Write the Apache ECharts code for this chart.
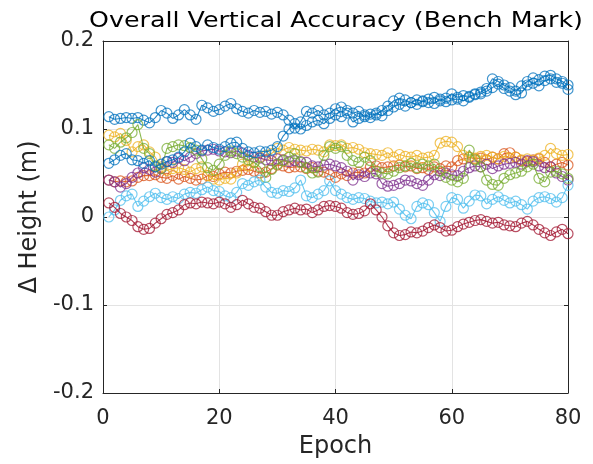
<!DOCTYPE html>
<html>
<head>
<meta charset="utf-8">
<script src="https://cdn.jsdelivr.net/npm/echarts@6/dist/echarts.min.js"></script>
<style>
html,body{margin:0;padding:0;background:#fff;}
#chart{width:593px;height:464px;}
</style>
</head>
<body>
<div id="chart"></div>
<script>
const epochs = Array.from({length: 80}, (_, i) => i + 1);

const seriesNames = ['Series 1','Series 2','Series 3','Series 4','Series 5','Series 6','Series 7','Series 8'];

const blueUpper = [
0.114,0.111,0.112,0.113,0.112,0.113,0.110,0.107,0.113,0.121,
0.118,0.112,0.116,0.122,0.116,0.111,0.127,0.124,0.120,0.122,
0.126,0.129,0.123,0.120,0.118,0.121,0.119,0.120,0.117,0.119,
0.116,0.110,0.101,0.108,0.120,0.118,0.121,0.116,0.118,0.123,
0.125,0.121,0.118,0.120,0.114,0.117,0.116,0.121,0.126,0.132,
0.135,0.133,0.130,0.133,0.131,0.134,0.136,0.132,0.135,0.140,
0.136,0.138,0.137,0.140,0.142,0.146,0.157,0.154,0.150,0.147,
0.143,0.149,0.154,0.158,0.156,0.160,0.161,0.157,0.154,0.150];

const orange = [
0.042,0.040,0.041,0.040,0.041,0.045,0.047,0.047,0.048,0.045,
0.044,0.047,0.043,0.046,0.044,0.042,0.043,0.047,0.046,0.049,
0.051,0.050,0.052,0.053,0.054,0.052,0.050,0.051,0.055,0.059,
0.058,0.056,0.057,0.057,0.055,0.056,0.052,0.051,0.048,0.045,
0.049,0.047,0.050,0.051,0.050,0.057,0.058,0.056,0.057,0.058,
0.059,0.057,0.058,0.055,0.056,0.054,0.057,0.055,0.058,0.057,
0.064,0.066,0.068,0.066,0.067,0.065,0.068,0.066,0.072,0.073,
0.068,0.064,0.063,0.065,0.066,0.062,0.057,0.060,0.062,0.059];

const yellow = [
0.093,0.091,0.095,0.087,0.074,0.080,0.082,0.074,0.068,0.057,
0.053,0.055,0.056,0.054,0.051,0.055,0.057,0.047,0.043,0.042,
0.044,0.043,0.050,0.060,0.058,0.062,0.068,0.070,0.072,0.078,
0.076,0.079,0.077,0.076,0.075,0.077,0.076,0.074,0.082,0.081,
0.082,0.078,0.079,0.077,0.073,0.072,0.071,0.070,0.073,0.068,
0.071,0.069,0.068,0.070,0.067,0.068,0.070,0.084,0.086,0.085,
0.080,0.070,0.068,0.067,0.069,0.070,0.068,0.066,0.069,0.067,
0.068,0.065,0.066,0.064,0.067,0.070,0.078,0.072,0.070,0.071];

const purple = [
0.042,0.040,0.034,0.038,0.045,0.050,0.056,0.054,0.051,0.055,
0.063,0.062,0.067,0.064,0.068,0.072,0.075,0.076,0.077,0.075,
0.074,0.073,0.075,0.073,0.070,0.068,0.067,0.065,0.064,0.066,
0.065,0.063,0.064,0.063,0.062,0.058,0.057,0.059,0.060,0.058,
0.056,0.052,0.042,0.048,0.046,0.050,0.049,0.038,0.035,0.036,
0.038,0.042,0.041,0.038,0.036,0.042,0.048,0.047,0.050,0.048,
0.047,0.052,0.056,0.058,0.057,0.060,0.055,0.058,0.060,0.061,
0.062,0.060,0.064,0.063,0.058,0.056,0.057,0.050,0.046,0.042];

const green = [
0.082,0.078,0.085,0.090,0.096,0.105,0.078,0.072,0.058,0.055,
0.078,0.080,0.082,0.081,0.079,0.076,0.066,0.056,0.053,0.060,
0.070,0.075,0.072,0.068,0.065,0.062,0.057,0.045,0.054,0.060,
0.064,0.068,0.072,0.062,0.056,0.050,0.051,0.070,0.080,0.078,
0.080,0.070,0.064,0.062,0.068,0.064,0.052,0.050,0.049,0.052,
0.056,0.058,0.061,0.056,0.060,0.058,0.060,0.052,0.045,0.042,
0.040,0.044,0.076,0.065,0.057,0.042,0.037,0.036,0.044,0.048,
0.050,0.052,0.057,0.060,0.044,0.040,0.051,0.052,0.049,0.044];

const lightBlue = [
0.000,0.008,0.019,0.024,0.026,0.012,0.018,0.023,0.027,0.022,
0.020,0.023,0.021,0.026,0.028,0.027,0.031,0.034,0.030,0.029,
0.024,0.022,0.028,0.038,0.036,0.040,0.042,0.034,0.028,0.027,
0.030,0.029,0.033,0.042,0.024,0.022,0.026,0.030,0.041,0.030,
0.026,0.022,0.020,0.022,0.021,0.018,0.016,0.017,0.015,0.017,
0.009,0.002,-0.002,0.012,0.016,0.014,0.005,-0.005,0.012,0.022,
0.020,0.010,0.018,0.025,0.024,0.015,0.020,0.023,0.019,0.016,
0.018,0.014,0.009,0.018,0.022,0.023,0.021,0.017,0.022,0.036];

const darkRed = [
0.016,0.011,0.004,0.000,-0.004,-0.011,-0.014,-0.013,-0.007,-0.002,
0.003,0.005,0.008,0.014,0.016,0.015,0.017,0.016,0.015,0.017,
0.015,0.011,0.014,0.019,0.015,0.011,0.010,0.006,0.002,0.002,
0.006,0.008,0.010,0.008,0.009,0.005,0.008,0.012,0.013,0.012,
0.010,0.005,0.003,0.004,0.007,0.015,0.008,0.000,-0.010,-0.018,
-0.021,-0.020,-0.017,-0.018,-0.016,-0.012,-0.009,-0.012,-0.016,-0.015,
-0.011,-0.008,-0.006,-0.004,-0.003,-0.005,-0.007,-0.006,-0.009,-0.010,
-0.011,-0.007,-0.005,-0.009,-0.014,-0.018,-0.021,-0.017,-0.014,-0.019];

const blueLower = [
0.061,0.065,0.070,0.072,0.065,0.064,0.061,0.064,0.057,0.060,
0.063,0.065,0.068,0.074,0.084,0.080,0.076,0.082,0.079,0.077,
0.080,0.084,0.085,0.078,0.074,0.073,0.075,0.074,0.076,0.080,
0.092,0.100,0.106,0.100,0.104,0.108,0.110,0.106,0.112,0.116,
0.114,0.118,0.108,0.112,0.116,0.113,0.118,0.115,0.121,0.125,
0.128,0.126,0.130,0.128,0.132,0.130,0.129,0.134,0.131,0.133,
0.134,0.132,0.136,0.139,0.140,0.143,0.147,0.151,0.146,0.143,
0.139,0.141,0.150,0.152,0.149,0.155,0.157,0.153,0.152,0.145];

const xTicks = [0, 20, 40, 60, 80];
const yTicks = [-0.2, -0.1, 0, 0.1, 0.2];

const allValues = [blueUpper, orange, yellow, purple, green, lightBlue, darkRed, blueLower];
const colors = ['#0072BD','#D95319','#EDB120','#7E2F8E','#77AC30','#4DBEEE','#A2142F','#0072BD'];

const FONT = 'DejaVu Sans';
const TXT = '#262626';

const chart = echarts.init(document.getElementById('chart'), null, {renderer: 'canvas'});

const series = allValues.map((vals, k) => ({
  name: seriesNames[k],
  type: 'line',
  data: epochs.map((e, i) => [e, vals[i]]),
  symbol: 'circle',
  symbolSize: 10,
  showSymbol: true,
  showAllSymbol: true,
  animation: false,
  lineStyle: {color: colors[k], width: 1.1, opacity: 0.85},
  itemStyle: {color: 'rgba(255,255,255,0)', borderColor: colors[k], borderWidth: 1.2, opacity: 0.75},
  emphasis: {disabled: true},
  z: 2 + k
}));

const fmtY = v => {
  const r = Math.round(v * 10) / 10;
  return r === 0 ? '0' : String(r);
};

chart.setOption({
  backgroundColor: '#fff',
  animation: false,
  graphic: [{
    type: 'text',
    x: 336,
    y: 21,
    scaleX: 1.15,
    style: {
      text: 'Overall Vertical Accuracy (Bench Mark)',
      font: '22px "DejaVu Sans"',
      fill: '#000',
      align: 'center',
      verticalAlign: 'middle'
    }
  }],
  grid: {left: 103, right: 25, top: 41, bottom: 70, containLabel: false},
  xAxis: [{
    type: 'value',
    min: 0, max: 80, interval: 20,
    name: 'Epoch',
    nameLocation: 'middle',
    nameGap: 42,
    nameTextStyle: {fontFamily: FONT, fontSize: 24, color: TXT},
    axisLine: {show: true, onZero: false, lineStyle: {color: '#262626', width: 1}},
    axisTick: {show: true, inside: true, length: 4, lineStyle: {color: '#262626'}},
    axisLabel: {fontFamily: FONT, fontSize: 21, color: TXT, margin: 15},
    splitLine: {show: true, lineStyle: {color: '#e3e3e3', width: 1}}
  }, {
    type: 'value', position: 'top',
    min: 0, max: 80, interval: 20,
    axisLine: {show: true, onZero: false, lineStyle: {color: '#262626', width: 1}},
    axisTick: {show: true, inside: true, length: 4, lineStyle: {color: '#262626'}},
    axisLabel: {show: false},
    splitLine: {show: false}
  }],
  yAxis: [{
    type: 'value',
    min: -0.2, max: 0.2, interval: 0.1,
    name: 'Δ Height (m)',
    nameLocation: 'middle',
    nameGap: 57,
    nameTextStyle: {fontFamily: FONT, fontSize: 24, color: TXT},
    axisLine: {show: true, onZero: false, lineStyle: {color: '#262626', width: 1}},
    axisTick: {show: true, inside: true, length: 4, lineStyle: {color: '#262626'}},
    axisLabel: {fontFamily: FONT, fontSize: 21, color: TXT, margin: 9, formatter: fmtY},
    splitLine: {show: true, lineStyle: {color: '#e3e3e3', width: 1}}
  }, {
    type: 'value', position: 'right',
    min: -0.2, max: 0.2, interval: 0.1,
    axisLine: {show: true, onZero: false, lineStyle: {color: '#262626', width: 1}},
    axisTick: {show: true, inside: true, length: 4, lineStyle: {color: '#262626'}},
    axisLabel: {show: false},
    splitLine: {show: false}
  }],
  series: series
});
</script>
</body>
</html>
